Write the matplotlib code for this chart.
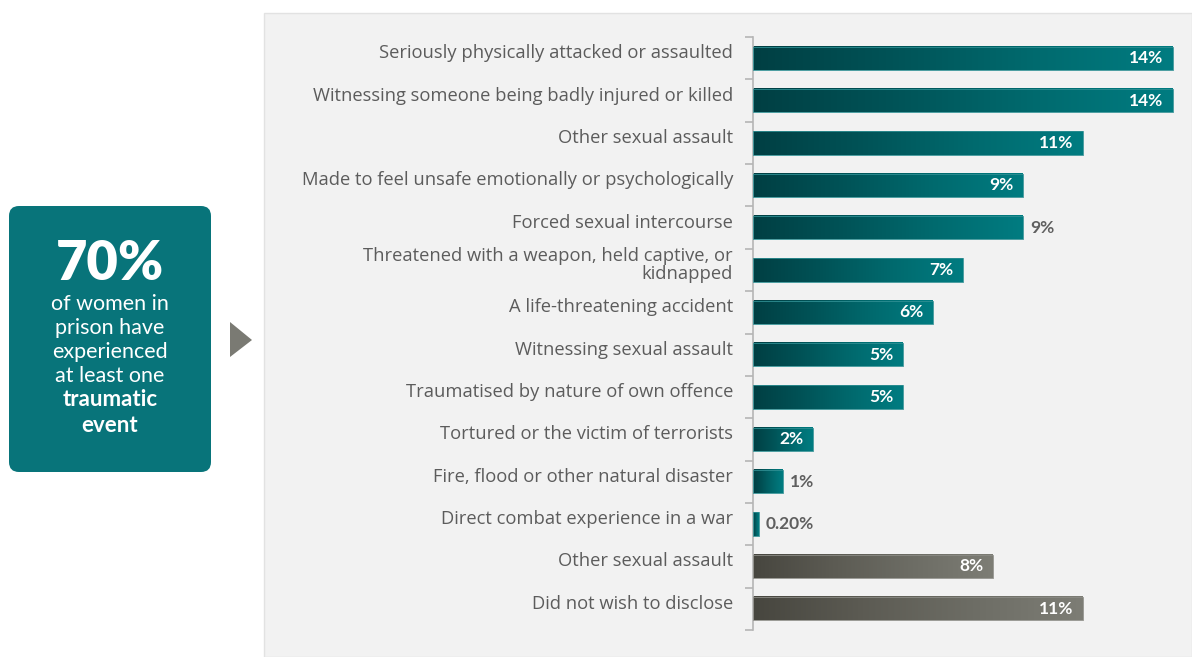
import numpy as np
import matplotlib.pyplot as plt
from matplotlib.colors import LinearSegmentedColormap
from matplotlib.patches import FancyBboxPatch, Polygon, Rectangle
from matplotlib.transforms import offset_copy

plt.rcParams['font.family'] = ['Lato', 'DejaVu Sans']

# trauma categories, top to bottom
categories = [
    'Seriously physically attacked or assaulted',
    'Witnessing someone being badly injured or killed',
    'Other sexual assault',
    'Made to feel unsafe emotionally or psychologically',
    'Forced sexual intercourse',
    'Threatened with a weapon, held captive, or\nkidnapped',
    'A life-threatening accident',
    'Witnessing sexual assault',
    'Traumatised by nature of own offence',
    'Tortured or the victim of terrorists',
    'Fire, flood or other natural disaster',
    'Direct combat experience in a war',
    'Other sexual assault',
    'Did not wish to disclose',
]
values = [14, 14, 11, 9, 9, 7, 6, 5, 5, 2, 1, 0.2, 8, 11]
value_labels = ['14%', '14%', '11%', '9%', '9%', '7%', '6%', '5%', '5%',
                '2%', '1%', '0.20%', '8%', '11%']
grey_rows = {12, 13}          # last two bars use the neutral palette
outside_rows = {4, 10, 11}    # value labels drawn past the bar end

headline = '70%'
body_lines = ['of women in', 'prison have', 'experienced', 'at least one']
bold_lines = ['traumatic', 'event']

teal_cmap = LinearSegmentedColormap.from_list(
    'teal', ['#003f43', '#005357', '#006a6e', '#007c81'])
grey_cmap = LinearSegmentedColormap.from_list(
    'greyg', ['#47463f', '#5c5b53', '#6d6d65', '#7d7d75'])

W, H = 1192, 657
fig = plt.figure(figsize=(W / 100, H / 100), dpi=100)
fig.patch.set_facecolor('white')

# background layer in pixel coordinates
bg = fig.add_axes([0, 0, 1, 1])
bg.set_xlim(0, W)
bg.set_ylim(H, 0)
bg.axis('off')
bg.add_patch(Rectangle((264, 13), W - 264, H - 13, facecolor='#f2f2f2',
                       edgecolor='#e2e2e2', linewidth=1))
bg.add_patch(FancyBboxPatch((9, 206), 202, 266,
                            boxstyle='round,pad=0,rounding_size=10',
                            facecolor='#08747a', edgecolor='none'))
bg.add_patch(Polygon([(230, 322), (252, 340), (230, 357)], closed=True,
                     facecolor='#7a7a73', edgecolor='none'))

bg.text(110, 264, headline, color='white', fontsize=39, fontweight='heavy',
        ha='center', va='center')
for k, line in enumerate(body_lines):
    bg.text(110, 304 + 24 * k, line, color='white', fontsize=15.5,
            ha='center', va='center')
for k, line in enumerate(bold_lines):
    bg.text(110, 400 + 26 * k, line, color='white', fontsize=16,
            fontweight='bold', ha='center', va='center')

# bar chart
x0, x1 = 753, W
ytop, ybot = 37, 630
ax = fig.add_axes([x0 / W, 1 - ybot / H, (x1 - x0) / W, (ybot - ytop) / H])
ax.set_facecolor('none')
n = len(values)
ax.set_xlim(0, (x1 - x0) / 30)
ax.set_ylim(n - 0.5, -0.5)

bar_h = 0.55
grad = np.linspace(0, 1, 256).reshape(1, -1)
for i, v in enumerate(values):
    cmap = grey_cmap if i in grey_rows else teal_cmap
    ax.imshow(grad, cmap=cmap, aspect='auto', interpolation='bilinear',
              extent=(0, v, i + bar_h / 2, i - bar_h / 2), zorder=2)
    edge = '#8c8c86' if i in grey_rows else '#2f8f93'
    ax.add_patch(Rectangle((0, i - bar_h / 2), v, bar_h, facecolor='none',
                           edgecolor=edge, linewidth=0.6, zorder=3))

    if i in outside_rows:
        ax.text(v, i, value_labels[i], color='#5f5f5f', fontsize=12.5,
                fontweight='bold', ha='left', va='center',
                transform=offset_copy(ax.transData, fig, x=7, y=0, units='dots'))
    else:
        ax.text(v, i, value_labels[i], color='white', fontsize=12.5,
                fontweight='bold', ha='right', va='center', zorder=4,
                transform=offset_copy(ax.transData, fig, x=-10, y=0, units='dots'))

    ax.text(0, i, categories[i], color='#5c5c5c', fontsize=13.2,
            family=['Open Sans', 'DejaVu Sans'],
            ha='right', va='center', linespacing=0.95,
            transform=offset_copy(ax.transData, fig, x=-20, y=5, units='dots'))

for s in ['top', 'right', 'bottom']:
    ax.spines[s].set_visible(False)
ax.spines['left'].set_color('#b5b5b5')
ax.spines['left'].set_linewidth(1.2)
ax.set_xticks([])
ax.set_yticks(np.arange(-0.5, n, 1))
ax.set_yticklabels([])
ax.tick_params(axis='y', length=6, color='#b5b5b5', width=1.2)

fig.savefig('out.png', dpi=100)
